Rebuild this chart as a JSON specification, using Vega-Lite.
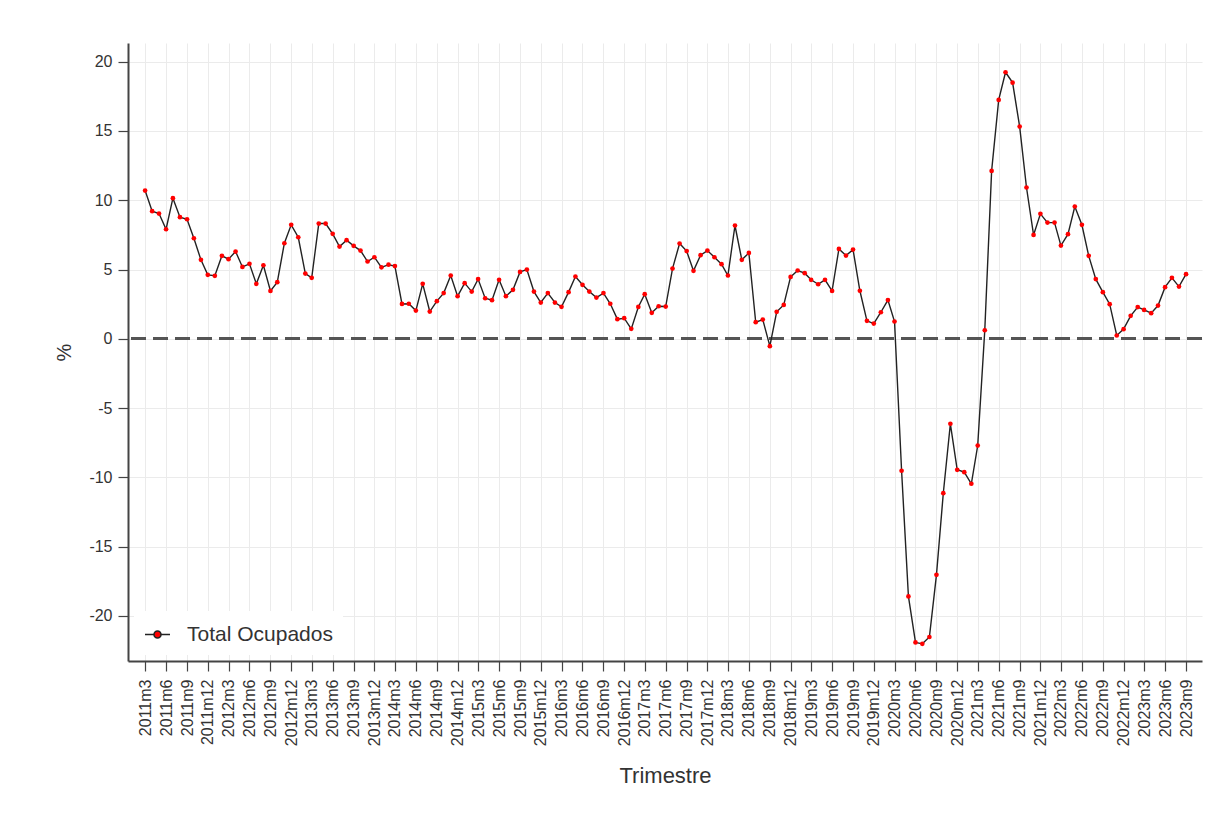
{
  "$schema": "https://vega.github.io/schema/vega-lite/v6.json",
  "width": 1074,
  "height": 618,
  "autosize": {"type": "none"},
  "padding": {"left": 128, "top": 43, "right": 17, "bottom": 160},
  "background": "white",
  "config": {"view": {"stroke": null}, "font": "Liberation Sans"},
  "data": {"values": [
    {"fecha":"2011-03-01","v":10.70,"serie":"Total Ocupados"},
    {"fecha":"2011-04-01","v":9.21,"serie":"Total Ocupados"},
    {"fecha":"2011-05-01","v":9.04,"serie":"Total Ocupados"},
    {"fecha":"2011-06-01","v":7.91,"serie":"Total Ocupados"},
    {"fecha":"2011-07-01","v":10.15,"serie":"Total Ocupados"},
    {"fecha":"2011-08-01","v":8.78,"serie":"Total Ocupados"},
    {"fecha":"2011-09-01","v":8.63,"serie":"Total Ocupados"},
    {"fecha":"2011-10-01","v":7.26,"serie":"Total Ocupados"},
    {"fecha":"2011-11-01","v":5.70,"serie":"Total Ocupados"},
    {"fecha":"2011-12-01","v":4.62,"serie":"Total Ocupados"},
    {"fecha":"2012-01-01","v":4.55,"serie":"Total Ocupados"},
    {"fecha":"2012-02-01","v":5.99,"serie":"Total Ocupados"},
    {"fecha":"2012-03-01","v":5.75,"serie":"Total Ocupados"},
    {"fecha":"2012-04-01","v":6.30,"serie":"Total Ocupados"},
    {"fecha":"2012-05-01","v":5.19,"serie":"Total Ocupados"},
    {"fecha":"2012-06-01","v":5.41,"serie":"Total Ocupados"},
    {"fecha":"2012-07-01","v":3.97,"serie":"Total Ocupados"},
    {"fecha":"2012-08-01","v":5.31,"serie":"Total Ocupados"},
    {"fecha":"2012-09-01","v":3.46,"serie":"Total Ocupados"},
    {"fecha":"2012-10-01","v":4.09,"serie":"Total Ocupados"},
    {"fecha":"2012-11-01","v":6.90,"serie":"Total Ocupados"},
    {"fecha":"2012-12-01","v":8.23,"serie":"Total Ocupados"},
    {"fecha":"2013-01-01","v":7.33,"serie":"Total Ocupados"},
    {"fecha":"2013-02-01","v":4.71,"serie":"Total Ocupados"},
    {"fecha":"2013-03-01","v":4.40,"serie":"Total Ocupados"},
    {"fecha":"2013-04-01","v":8.32,"serie":"Total Ocupados"},
    {"fecha":"2013-05-01","v":8.32,"serie":"Total Ocupados"},
    {"fecha":"2013-06-01","v":7.58,"serie":"Total Ocupados"},
    {"fecha":"2013-07-01","v":6.66,"serie":"Total Ocupados"},
    {"fecha":"2013-08-01","v":7.12,"serie":"Total Ocupados"},
    {"fecha":"2013-09-01","v":6.71,"serie":"Total Ocupados"},
    {"fecha":"2013-10-01","v":6.37,"serie":"Total Ocupados"},
    {"fecha":"2013-11-01","v":5.58,"serie":"Total Ocupados"},
    {"fecha":"2013-12-01","v":5.89,"serie":"Total Ocupados"},
    {"fecha":"2014-01-01","v":5.16,"serie":"Total Ocupados"},
    {"fecha":"2014-02-01","v":5.35,"serie":"Total Ocupados"},
    {"fecha":"2014-03-01","v":5.25,"serie":"Total Ocupados"},
    {"fecha":"2014-04-01","v":2.52,"serie":"Total Ocupados"},
    {"fecha":"2014-05-01","v":2.53,"serie":"Total Ocupados"},
    {"fecha":"2014-06-01","v":2.04,"serie":"Total Ocupados"},
    {"fecha":"2014-07-01","v":3.97,"serie":"Total Ocupados"},
    {"fecha":"2014-08-01","v":1.97,"serie":"Total Ocupados"},
    {"fecha":"2014-09-01","v":2.72,"serie":"Total Ocupados"},
    {"fecha":"2014-10-01","v":3.30,"serie":"Total Ocupados"},
    {"fecha":"2014-11-01","v":4.57,"serie":"Total Ocupados"},
    {"fecha":"2014-12-01","v":3.08,"serie":"Total Ocupados"},
    {"fecha":"2015-01-01","v":4.02,"serie":"Total Ocupados"},
    {"fecha":"2015-02-01","v":3.41,"serie":"Total Ocupados"},
    {"fecha":"2015-03-01","v":4.31,"serie":"Total Ocupados"},
    {"fecha":"2015-04-01","v":2.93,"serie":"Total Ocupados"},
    {"fecha":"2015-05-01","v":2.79,"serie":"Total Ocupados"},
    {"fecha":"2015-06-01","v":4.26,"serie":"Total Ocupados"},
    {"fecha":"2015-07-01","v":3.08,"serie":"Total Ocupados"},
    {"fecha":"2015-08-01","v":3.54,"serie":"Total Ocupados"},
    {"fecha":"2015-09-01","v":4.83,"serie":"Total Ocupados"},
    {"fecha":"2015-10-01","v":5.00,"serie":"Total Ocupados"},
    {"fecha":"2015-11-01","v":3.41,"serie":"Total Ocupados"},
    {"fecha":"2015-12-01","v":2.62,"serie":"Total Ocupados"},
    {"fecha":"2016-01-01","v":3.30,"serie":"Total Ocupados"},
    {"fecha":"2016-02-01","v":2.62,"serie":"Total Ocupados"},
    {"fecha":"2016-03-01","v":2.31,"serie":"Total Ocupados"},
    {"fecha":"2016-04-01","v":3.37,"serie":"Total Ocupados"},
    {"fecha":"2016-05-01","v":4.50,"serie":"Total Ocupados"},
    {"fecha":"2016-06-01","v":3.90,"serie":"Total Ocupados"},
    {"fecha":"2016-07-01","v":3.41,"serie":"Total Ocupados"},
    {"fecha":"2016-08-01","v":2.98,"serie":"Total Ocupados"},
    {"fecha":"2016-09-01","v":3.30,"serie":"Total Ocupados"},
    {"fecha":"2016-10-01","v":2.53,"serie":"Total Ocupados"},
    {"fecha":"2016-11-01","v":1.42,"serie":"Total Ocupados"},
    {"fecha":"2016-12-01","v":1.49,"serie":"Total Ocupados"},
    {"fecha":"2017-01-01","v":0.72,"serie":"Total Ocupados"},
    {"fecha":"2017-02-01","v":2.30,"serie":"Total Ocupados"},
    {"fecha":"2017-03-01","v":3.22,"serie":"Total Ocupados"},
    {"fecha":"2017-04-01","v":1.88,"serie":"Total Ocupados"},
    {"fecha":"2017-05-01","v":2.35,"serie":"Total Ocupados"},
    {"fecha":"2017-06-01","v":2.33,"serie":"Total Ocupados"},
    {"fecha":"2017-07-01","v":5.07,"serie":"Total Ocupados"},
    {"fecha":"2017-08-01","v":6.88,"serie":"Total Ocupados"},
    {"fecha":"2017-09-01","v":6.33,"serie":"Total Ocupados"},
    {"fecha":"2017-10-01","v":4.91,"serie":"Total Ocupados"},
    {"fecha":"2017-11-01","v":6.04,"serie":"Total Ocupados"},
    {"fecha":"2017-12-01","v":6.37,"serie":"Total Ocupados"},
    {"fecha":"2018-01-01","v":5.89,"serie":"Total Ocupados"},
    {"fecha":"2018-02-01","v":5.39,"serie":"Total Ocupados"},
    {"fecha":"2018-03-01","v":4.57,"serie":"Total Ocupados"},
    {"fecha":"2018-04-01","v":8.18,"serie":"Total Ocupados"},
    {"fecha":"2018-05-01","v":5.70,"serie":"Total Ocupados"},
    {"fecha":"2018-06-01","v":6.20,"serie":"Total Ocupados"},
    {"fecha":"2018-07-01","v":1.20,"serie":"Total Ocupados"},
    {"fecha":"2018-08-01","v":1.39,"serie":"Total Ocupados"},
    {"fecha":"2018-09-01","v":-0.53,"serie":"Total Ocupados"},
    {"fecha":"2018-10-01","v":1.95,"serie":"Total Ocupados"},
    {"fecha":"2018-11-01","v":2.45,"serie":"Total Ocupados"},
    {"fecha":"2018-12-01","v":4.47,"serie":"Total Ocupados"},
    {"fecha":"2019-01-01","v":4.93,"serie":"Total Ocupados"},
    {"fecha":"2019-02-01","v":4.74,"serie":"Total Ocupados"},
    {"fecha":"2019-03-01","v":4.26,"serie":"Total Ocupados"},
    {"fecha":"2019-04-01","v":3.94,"serie":"Total Ocupados"},
    {"fecha":"2019-05-01","v":4.26,"serie":"Total Ocupados"},
    {"fecha":"2019-06-01","v":3.46,"serie":"Total Ocupados"},
    {"fecha":"2019-07-01","v":6.49,"serie":"Total Ocupados"},
    {"fecha":"2019-08-01","v":6.01,"serie":"Total Ocupados"},
    {"fecha":"2019-09-01","v":6.44,"serie":"Total Ocupados"},
    {"fecha":"2019-10-01","v":3.47,"serie":"Total Ocupados"},
    {"fecha":"2019-11-01","v":1.30,"serie":"Total Ocupados"},
    {"fecha":"2019-12-01","v":1.10,"serie":"Total Ocupados"},
    {"fecha":"2020-01-01","v":1.92,"serie":"Total Ocupados"},
    {"fecha":"2020-02-01","v":2.80,"serie":"Total Ocupados"},
    {"fecha":"2020-03-01","v":1.25,"serie":"Total Ocupados"},
    {"fecha":"2020-04-01","v":-9.52,"serie":"Total Ocupados"},
    {"fecha":"2020-05-01","v":-18.59,"serie":"Total Ocupados"},
    {"fecha":"2020-06-01","v":-21.91,"serie":"Total Ocupados"},
    {"fecha":"2020-07-01","v":-22.01,"serie":"Total Ocupados"},
    {"fecha":"2020-08-01","v":-21.52,"serie":"Total Ocupados"},
    {"fecha":"2020-09-01","v":-17.03,"serie":"Total Ocupados"},
    {"fecha":"2020-10-01","v":-11.14,"serie":"Total Ocupados"},
    {"fecha":"2020-11-01","v":-6.13,"serie":"Total Ocupados"},
    {"fecha":"2020-12-01","v":-9.45,"serie":"Total Ocupados"},
    {"fecha":"2021-01-01","v":-9.62,"serie":"Total Ocupados"},
    {"fecha":"2021-02-01","v":-10.46,"serie":"Total Ocupados"},
    {"fecha":"2021-03-01","v":-7.70,"serie":"Total Ocupados"},
    {"fecha":"2021-04-01","v":0.62,"serie":"Total Ocupados"},
    {"fecha":"2021-05-01","v":12.12,"serie":"Total Ocupados"},
    {"fecha":"2021-06-01","v":17.24,"serie":"Total Ocupados"},
    {"fecha":"2021-07-01","v":19.24,"serie":"Total Ocupados"},
    {"fecha":"2021-08-01","v":18.49,"serie":"Total Ocupados"},
    {"fecha":"2021-09-01","v":15.32,"serie":"Total Ocupados"},
    {"fecha":"2021-10-01","v":10.92,"serie":"Total Ocupados"},
    {"fecha":"2021-11-01","v":7.50,"serie":"Total Ocupados"},
    {"fecha":"2021-12-01","v":9.02,"serie":"Total Ocupados"},
    {"fecha":"2022-01-01","v":8.39,"serie":"Total Ocupados"},
    {"fecha":"2022-02-01","v":8.39,"serie":"Total Ocupados"},
    {"fecha":"2022-03-01","v":6.73,"serie":"Total Ocupados"},
    {"fecha":"2022-04-01","v":7.55,"serie":"Total Ocupados"},
    {"fecha":"2022-05-01","v":9.55,"serie":"Total Ocupados"},
    {"fecha":"2022-06-01","v":8.23,"serie":"Total Ocupados"},
    {"fecha":"2022-07-01","v":5.99,"serie":"Total Ocupados"},
    {"fecha":"2022-08-01","v":4.31,"serie":"Total Ocupados"},
    {"fecha":"2022-09-01","v":3.37,"serie":"Total Ocupados"},
    {"fecha":"2022-10-01","v":2.50,"serie":"Total Ocupados"},
    {"fecha":"2022-11-01","v":0.24,"serie":"Total Ocupados"},
    {"fecha":"2022-12-01","v":0.70,"serie":"Total Ocupados"},
    {"fecha":"2023-01-01","v":1.66,"serie":"Total Ocupados"},
    {"fecha":"2023-02-01","v":2.29,"serie":"Total Ocupados"},
    {"fecha":"2023-03-01","v":2.09,"serie":"Total Ocupados"},
    {"fecha":"2023-04-01","v":1.85,"serie":"Total Ocupados"},
    {"fecha":"2023-05-01","v":2.40,"serie":"Total Ocupados"},
    {"fecha":"2023-06-01","v":3.73,"serie":"Total Ocupados"},
    {"fecha":"2023-07-01","v":4.40,"serie":"Total Ocupados"},
    {"fecha":"2023-08-01","v":3.77,"serie":"Total Ocupados"},
    {"fecha":"2023-09-01","v":4.67,"serie":"Total Ocupados"}
  ]},
  "layer": [
    {
      "mark": {"type": "rule", "strokeDash": [15, 7], "strokeWidth": 2.5, "color": "#555"},
      "encoding": {
        "y": {
          "datum": 0, "type": "quantitative",
          "scale": {"domain": [-23.25, 21.35], "nice": false, "zero": false},
          "axis": {
            "title": "%", "values": [-20, -15, -10, -5, 0, 5, 10, 15, 20],
            "labelExpr": "'' + datum.value",
            "labelFontSize": 16, "labelColor": "#333", "labelPadding": 6,
            "tickSize": 10, "tickColor": "#444", "tickWidth": 1.2,
            "domainColor": "#444", "domainWidth": 2,
            "grid": true, "gridColor": "#ebebeb", "gridWidth": 1,
            "titleFontSize": 20, "titleFontWeight": "normal", "titleColor": "#333", "titlePadding": 14
          }
        }
      }
    },
    {
      "mark": {"type": "line", "strokeWidth": 1.4},
      "encoding": {
        "x": {
          "field": "fecha", "type": "temporal",
          "scale": {"type": "utc", "domain": [{"year": 2010, "month": 12, "date": 16, "utc": true}, {"year": 2023, "month": 11, "date": 10, "utc": true}], "nice": false},
          "axis": {
            "title": "Trimestre",
            "tickCount": 200,
            "values": [
              {"year":2011,"month":3,"utc":true},{"year":2011,"month":6,"utc":true},{"year":2011,"month":9,"utc":true},{"year":2011,"month":12,"utc":true},
              {"year":2012,"month":3,"utc":true},{"year":2012,"month":6,"utc":true},{"year":2012,"month":9,"utc":true},{"year":2012,"month":12,"utc":true},
              {"year":2013,"month":3,"utc":true},{"year":2013,"month":6,"utc":true},{"year":2013,"month":9,"utc":true},{"year":2013,"month":12,"utc":true},
              {"year":2014,"month":3,"utc":true},{"year":2014,"month":6,"utc":true},{"year":2014,"month":9,"utc":true},{"year":2014,"month":12,"utc":true},
              {"year":2015,"month":3,"utc":true},{"year":2015,"month":6,"utc":true},{"year":2015,"month":9,"utc":true},{"year":2015,"month":12,"utc":true},
              {"year":2016,"month":3,"utc":true},{"year":2016,"month":6,"utc":true},{"year":2016,"month":9,"utc":true},{"year":2016,"month":12,"utc":true},
              {"year":2017,"month":3,"utc":true},{"year":2017,"month":6,"utc":true},{"year":2017,"month":9,"utc":true},{"year":2017,"month":12,"utc":true},
              {"year":2018,"month":3,"utc":true},{"year":2018,"month":6,"utc":true},{"year":2018,"month":9,"utc":true},{"year":2018,"month":12,"utc":true},
              {"year":2019,"month":3,"utc":true},{"year":2019,"month":6,"utc":true},{"year":2019,"month":9,"utc":true},{"year":2019,"month":12,"utc":true},
              {"year":2020,"month":3,"utc":true},{"year":2020,"month":6,"utc":true},{"year":2020,"month":9,"utc":true},{"year":2020,"month":12,"utc":true},
              {"year":2021,"month":3,"utc":true},{"year":2021,"month":6,"utc":true},{"year":2021,"month":9,"utc":true},{"year":2021,"month":12,"utc":true},
              {"year":2022,"month":3,"utc":true},{"year":2022,"month":6,"utc":true},{"year":2022,"month":9,"utc":true},{"year":2022,"month":12,"utc":true},
              {"year":2023,"month":3,"utc":true},{"year":2023,"month":6,"utc":true},{"year":2023,"month":9,"utc":true}
            ],
            "labelExpr": "utcFormat(datum.value, '%Y') + 'm' + (utcmonth(datum.value) + 1)",
            "labelOverlap": false, "labelFlush": false,
            "labelAngle": -90, "labelFontSize": 16, "labelColor": "#333", "labelPadding": 8,
            "tickSize": 10, "tickColor": "#444", "tickWidth": 1.2,
            "domainColor": "#444", "domainWidth": 2,
            "grid": true, "gridColor": "#ebebeb", "gridWidth": 1,
            "titleFontSize": 22, "titleFontWeight": "normal", "titleColor": "#333", "titlePadding": 20
          }
        },
        "y": {
          "field": "v", "type": "quantitative",
          "scale": {"domain": [-23.25, 21.35], "nice": false, "zero": false},
          "axis": {
            "title": "%", "values": [-20, -15, -10, -5, 0, 5, 10, 15, 20],
            "labelExpr": "'' + datum.value",
            "labelFontSize": 16, "labelColor": "#333", "labelPadding": 6,
            "tickSize": 10, "tickColor": "#444", "tickWidth": 1.2,
            "domainColor": "#444", "domainWidth": 2,
            "grid": true, "gridColor": "#ebebeb", "gridWidth": 1,
            "titleFontSize": 20, "titleFontWeight": "normal", "titleColor": "#333", "titlePadding": 14
          }
        },
        "stroke": {
          "field": "serie", "type": "nominal",
          "scale": {"range": ["#222222"]},
          "legend": {
            "title": null, "orient": "bottom-left", "offset": 6, "padding": 10,
            "fillColor": "white", "labelFontSize": 21, "labelColor": "#333", "labelOffset": 16,
            "symbolType": "M-1,0H-0.28M0.28,0H1M-0.28,0A0.28,0.28 0 1,0 0.28,0A0.28,0.28 0 1,0 -0.28,0Z",
            "symbolSize": 625, "symbolStrokeWidth": 1.6, "symbolFillColor": "#ff0000"
          }
        }
      }
    },
    {
      "mark": {"type": "point", "filled": true, "color": "#ff0000", "size": 22, "opacity": 1},
      "encoding": {
        "x": {"field": "fecha", "type": "temporal", "scale": {"type": "utc"}},
        "y": {"field": "v", "type": "quantitative"}
      }
    }
  ]
}
